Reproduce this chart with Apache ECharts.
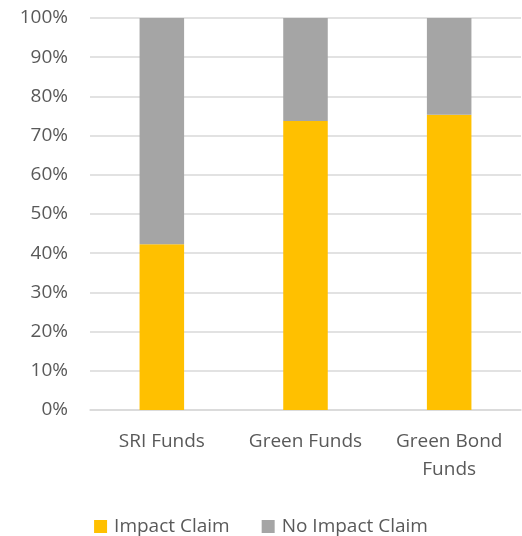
<!DOCTYPE html>
<html>
<head>
<meta charset="utf-8">
<script src="https://cdn.jsdelivr.net/npm/echarts@6/dist/echarts.min.js"></script>
<style>
	html, body { margin: 0; padding: 0; background: #fff; }
	#chart { width: 522px; height: 536px; }
</style>
</head>
<body>
<div id="chart"></div>
<script>
	var categories = ['SRI Funds', 'Green Funds', 'Green Bond\nFunds'];
	var impactClaim = [42.3, 73.7, 75.3];
	var noImpactClaim = [57.7, 26.3, 24.7];
	var seriesNames = ['Impact Claim', 'No Impact Claim'];
	var colors = ['#FFC000', '#A5A5A5'];

	var font = 'Open Sans';
	var chart = echarts.init(document.getElementById('chart'));
	var option = {
		animation: false,
		color: colors,
		grid: { left: 90, right: 1, top: 18, bottom: 126 },
		legend: {
			top: 512,
			left: 'center',
			itemWidth: 13,
			itemHeight: 13,
			itemGap: 32,
			icon: 'rect',
			textStyle: { color: '#595959', fontSize: 19, fontFamily: font, padding: [0, 0, 0, 2] },
			data: seriesNames
		},
		xAxis: {
			type: 'category',
			data: categories,
			axisLine: { lineStyle: { color: '#d9d9d9', width: 1.5 } },
			axisTick: { show: false },
			axisLabel: { color: '#595959', fontSize: 19, fontFamily: font, margin: 18, lineHeight: 28, interval: 0, hideOverlap: false }
		},
		yAxis: {
			type: 'value',
			min: 0,
			max: 100,
			interval: 10,
			axisLine: { show: false },
			axisTick: { show: false },
			splitLine: { lineStyle: { color: '#d9d9d9', width: 1.5 } },
			axisLabel: { color: '#595959', fontSize: 19, fontFamily: font, margin: 22, formatter: '{value}%' }
		},
		series: [
			{ name: seriesNames[0], type: 'bar', stack: 'total', barWidth: '31%', data: impactClaim },
			{ name: seriesNames[1], type: 'bar', stack: 'total', barWidth: '31%', data: noImpactClaim }
		]
	};
	chart.setOption(option);
</script>
</body>
</html>
